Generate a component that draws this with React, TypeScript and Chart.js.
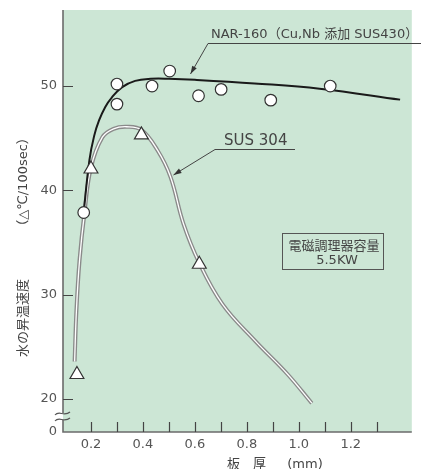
import React, { useEffect, useRef } from 'react';
import { Chart, registerables } from 'chart.js';

Chart.register(...registerables);

// ---- axis ranges & ticks ----
const xMin = 0.0923;
const xMax = 1.435;
const yMin = 16.84;
const yMax = 57.29;
const xTickLabels = [0.2, 0.4, 0.6, 0.8, 1.0, 1.2];
const xTickMarks = [0.2, 0.3, 0.4, 0.5, 0.6, 0.7, 0.8, 0.9, 1.0, 1.1, 1.2, 1.3];
const yTickValues = [20, 30, 40, 50];
const yBottomLabel = '0';

// ---- NAR-160 (circles + fitted curve) ----
const narMarkX = [0.172, 0.3, 0.3, 0.435, 0.503, 0.614, 0.701, 0.892, 1.121];
const narMarkY = [37.88, 50.19, 48.27, 50.0, 51.44, 49.07, 49.68, 48.65, 50.0];
const narCurveX = [0.172, 0.194, 0.212, 0.231, 0.255, 0.28, 0.32, 0.37, 0.43, 0.5, 0.6, 0.83, 1.08, 1.39];
const narCurveY = [37.9, 42.9, 45.2, 46.7, 48.0, 48.9, 49.9, 50.5, 50.7, 50.7, 50.6, 50.25, 49.75, 48.7];

// ---- SUS 304 (triangles + curve) ----
const susMarkX = [0.146, 0.2, 0.394, 0.617];
const susMarkY = [22.35, 42.05, 45.32, 32.92];
const susCurveX = [0.137, 0.144, 0.156, 0.175, 0.2, 0.244, 0.287, 0.337, 0.394, 0.456, 0.506, 0.556, 0.616, 0.706, 0.831, 0.956, 1.05];
const susCurveY = [23.6, 28.5, 33.3, 37.85, 42.2, 45.1, 45.9, 46.1, 45.8, 43.85, 41.3, 36.8, 33.1, 29.1, 25.6, 22.4, 19.6];

// ---- texts ----
const narLabel = 'NAR-160（Cu,Nb 添加 SUS430）';
const susLabel = 'SUS 304';
const boxLine1 = '電磁調理器容量';
const boxLine2 = '5.5KW';
const yTitleA = '水の昇温速度';
const yTitleB = '（△℃/100sec）';
const xTitleParts = ['板', '厚', '(mm)'];

const FONT = "'DejaVu Sans', 'Noto Sans CJK JP', sans-serif";
const GREEN = '#cce6d5';
const TEXT = '#444';

const zip = (xs: number[], ys: number[]) => xs.map((x, i) => ({ x, y: ys[i] }));

function arrow(ctx: CanvasRenderingContext2D, x0: number, y0: number, x1: number, y1: number) {
  ctx.beginPath();
  ctx.moveTo(x0, y0);
  ctx.lineTo(x1, y1);
  ctx.stroke();
  const ang = Math.atan2(y1 - y0, x1 - x0);
  const len = 8, w = 2.6;
  ctx.beginPath();
  ctx.moveTo(x1, y1);
  ctx.lineTo(x1 - len * Math.cos(ang) + w * Math.sin(ang), y1 - len * Math.sin(ang) - w * Math.cos(ang));
  ctx.lineTo(x1 - len * Math.cos(ang) - w * Math.sin(ang), y1 - len * Math.sin(ang) + w * Math.cos(ang));
  ctx.closePath();
  ctx.fill();
}

const decor = {
  id: 'decor',
  beforeDraw(chart: any) {
    const { ctx, chartArea: a } = chart;
    ctx.save();
    ctx.fillStyle = '#fff';
    ctx.fillRect(0, 0, chart.width, chart.height);
    ctx.fillStyle = GREEN;
    ctx.fillRect(a.left, a.top, a.right - a.left, a.bottom - a.top);
    ctx.restore();
  },
  afterDraw(chart: any) {
    const { ctx, chartArea: a, scales } = chart;
    const xs = scales.x, ys = scales.y;
    ctx.save();
    // axis lines
    ctx.strokeStyle = '#6b6b6b';
    ctx.lineWidth = 1.6;
    const bTop = a.bottom - 19, bBot = a.bottom - 12;
    ctx.beginPath();
    ctx.moveTo(a.left, a.top);
    ctx.lineTo(a.left, bTop);
    ctx.moveTo(a.left, bBot);
    ctx.lineTo(a.left, a.bottom);
    ctx.lineTo(a.right, a.bottom);
    ctx.stroke();
    // break waves
    ctx.lineWidth = 1.2;
    ctx.strokeStyle = '#555';
    for (const yy of [bTop + 0.5, bBot - 0.5]) {
      ctx.beginPath();
      ctx.moveTo(a.left - 8, yy + 1.5);
      ctx.bezierCurveTo(a.left - 4, yy - 3.5, a.left + 1, yy + 3.5, a.left + 7, yy - 1.5);
      ctx.stroke();
    }
    // tick marks (inside)
    ctx.strokeStyle = '#444';
    ctx.lineWidth = 1.2;
    ctx.beginPath();
    for (const v of yTickValues) {
      const p = Math.round(ys.getPixelForValue(v)) + 0.5;
      ctx.moveTo(a.left, p);
      ctx.lineTo(a.left + 10, p);
    }
    for (const v of xTickMarks) {
      const p = Math.round(xs.getPixelForValue(v)) + 0.5;
      ctx.moveTo(p, a.bottom);
      ctx.lineTo(p, a.bottom - 10);
    }
    ctx.stroke();

    // annotations
    ctx.strokeStyle = '#444';
    ctx.fillStyle = '#333';
    ctx.lineWidth = 1;
    // NAR
    ctx.beginPath();
    ctx.moveTo(208, 43.5);
    ctx.lineTo(421, 43.5);
    ctx.stroke();
    arrow(ctx, 208, 43.5, 190.5, 74);
    // SUS
    ctx.beginPath();
    ctx.moveTo(215, 149.5);
    ctx.lineTo(295, 149.5);
    ctx.stroke();
    arrow(ctx, 215, 149.5, 173.5, 175);

    ctx.fillStyle = TEXT;
    ctx.textBaseline = 'middle';
    ctx.textAlign = 'left';
    ctx.font = `13px ${FONT}`;
    ctx.fillText(narLabel, 211, 35);
    ctx.font = `15px ${FONT}`;
    ctx.fillText(susLabel, 224, 141);

    // box
    ctx.strokeStyle = '#555';
    ctx.lineWidth = 1;
    ctx.strokeRect(282.5, 233.5, 101, 36);
    ctx.textAlign = 'center';
    ctx.font = `13px ${FONT}`;
    ctx.fillText(boxLine1, 334, 247);
    ctx.fillText(boxLine2, 337, 261);

    // x title
    ctx.fillText(xTitleParts[0], 233.5, 465);
    ctx.fillText(xTitleParts[1], 259.5, 465);
    ctx.fillText(xTitleParts[2], 305, 465);

    // y title (rotated)
    ctx.save();
    ctx.translate(23.5, 0);
    ctx.rotate(-Math.PI / 2);
    ctx.fillText(yTitleA, -318, 0);
    ctx.fillText(yTitleB, -182, 0);
    ctx.restore();

    ctx.restore();
  },
};

export default function App() {
  const ref = useRef<HTMLCanvasElement>(null);
  useEffect(() => {
    if (!ref.current) return;
    Chart.defaults.font.family = FONT;
    const chart = new Chart(ref.current, {
      type: 'scatter',
      data: {
        datasets: [
          {
            label: 'NAR marks',
            data: zip(narMarkX, narMarkY),
            pointStyle: 'circle',
            pointRadius: 5.8,
            pointBackgroundColor: '#fff',
            pointBorderColor: '#333',
            pointBorderWidth: 1.2,
            showLine: false,
            order: 0,
          },
          {
            label: 'SUS marks',
            data: zip(susMarkX, susMarkY),
            pointStyle: 'triangle',
            pointRadius: 8,
            pointBackgroundColor: '#fff',
            pointBorderColor: '#333',
            pointBorderWidth: 1.2,
            showLine: false,
            order: 0,
          },
          {
            label: 'NAR curve',
            data: zip(narCurveX, narCurveY),
            showLine: true,
            borderColor: '#1a1a1a',
            borderWidth: 2,
            pointRadius: 0,
            tension: 0.4,
            order: 1,
          },
          {
            label: 'SUS inner',
            data: zip(susCurveX, susCurveY),
            showLine: true,
            borderColor: '#ffffff',
            borderWidth: 1.3,
            pointRadius: 0,
            tension: 0.4,
            order: 2,
          },
          {
            label: 'SUS outer',
            data: zip(susCurveX, susCurveY),
            showLine: true,
            borderColor: '#8a8a8a',
            borderWidth: 4,
            pointRadius: 0,
            tension: 0.4,
            order: 3,
          },
        ],
      },
      options: {
        animation: false,
        responsive: false,
        events: [],
        layout: { padding: { top: 10, left: 0, right: 0, bottom: 0 } },
        plugins: { legend: { display: false }, tooltip: { enabled: false } },
        scales: {
          x: {
            type: 'linear',
            min: xMin,
            max: xMax,
            border: { display: false },
            grid: { display: false, drawTicks: false },
            afterBuildTicks: (s: any) => {
              s.ticks = xTickLabels.map((v) => ({ value: v }));
            },
            afterFit: (s: any) => {
              s.height = 37;
              s.paddingLeft = 0;
              s.paddingRight = 0;
            },
            ticks: {
              autoSkip: false,
              maxRotation: 0,
              padding: 5,
              color: '#555',
              font: { size: 13, family: FONT },
              callback: (v: any) => Number(v).toFixed(1),
            },
          },
          y: {
            type: 'linear',
            min: yMin,
            max: yMax,
            border: { display: false },
            grid: { display: false, drawTicks: false },
            afterBuildTicks: (s: any) => {
              s.ticks = [{ value: yMin }, ...yTickValues.map((v) => ({ value: v }))];
            },
            afterFit: (s: any) => {
              s.width = 63;
              s.paddingTop = 0;
              s.paddingBottom = 0;
            },
            ticks: {
              autoSkip: false,
              padding: 6,
              color: '#555',
              font: { size: 13, family: FONT },
              callback: (v: any) => (Number(v) < 19 ? yBottomLabel : String(v)),
            },
          },
        },
      },
      plugins: [decor],
    });
    return () => chart.destroy();
  }, []);
  return (
    <div style={{ position: 'absolute', left: 0, top: 0, width: 421, height: 469 }}>
      <canvas ref={ref} width={421} height={469} style={{ display: 'block' }} />
    </div>
  );
}
